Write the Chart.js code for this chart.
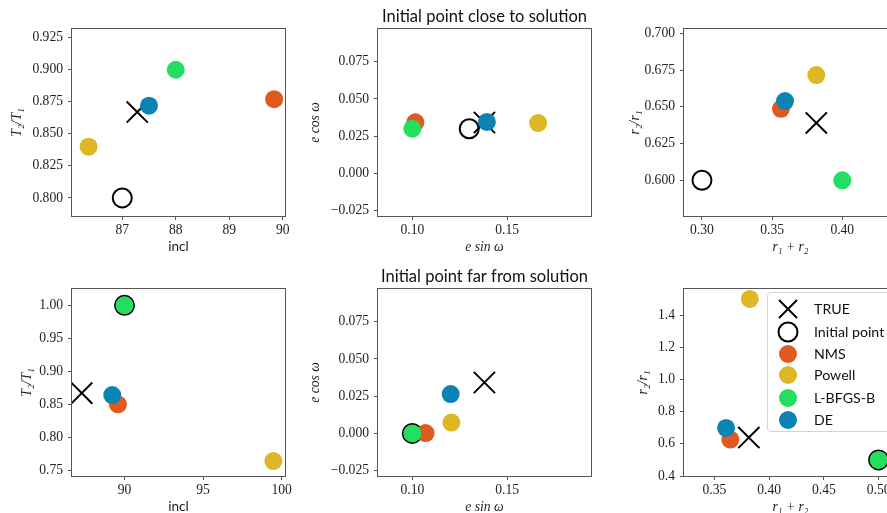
<!DOCTYPE html>
<html><head><meta charset="utf-8">
<script src="https://cdn.jsdelivr.net/npm/chart.js@4.4.1/dist/chart.umd.min.js"></script>
<style>
html,body{margin:0;padding:0;background:#fff;overflow:hidden;}
#fig{position:relative;width:887px;height:513px;overflow:hidden;background:#fff;}
#fig canvas{position:absolute;}
#legend{position:absolute;left:767px;top:292px;width:150px;height:140px;border:1px solid #d3d3d3;border-radius:4px;background:rgba(255,255,255,0.85);box-sizing:border-box;}
#legend .row{position:absolute;left:0;height:22px;width:150px;}
#legend svg{position:absolute;left:9px;top:0px;}
#legend span{position:absolute;left:46px;top:2px;font-family:Lato,"DejaVu Sans",sans-serif;font-size:14.2px;color:#111;white-space:nowrap;line-height:18px;}
</style></head><body><div id="fig"><div id="legend"></div></div>
<script>
// ---- series names & colours ----
const methods = ['TRUE', 'Initial point', 'NMS', 'Powell', 'L-BFGS-B', 'DE'];
const colors  = ['#000000', '#000000', '#E05A1F', '#DEB724', '#23DE5F', '#0B84B3'];

// ---- initial point close to solution ----
const inclClose   = [87.28, 87.00, 89.84, 86.37, 88.00, 87.50];
const t2t1Close   = [0.867, 0.800, 0.877, 0.840, 0.900, 0.872];
const esinwClose  = [0.138, 0.130, 0.1016, 0.1663, 0.100, 0.1393];
const ecoswClose  = [0.0342, 0.030, 0.0343, 0.0338, 0.030, 0.0346];
const rsumClose   = [0.3815, 0.300, 0.3563, 0.3815, 0.400, 0.3592];
const rratioClose = [0.639, 0.600, 0.6486, 0.6716, 0.600, 0.6539];

// ---- initial point far from solution ----
const inclFar   = [87.28, 90.00, 89.58, 99.47, 90.00, 89.22];
const t2t1Far   = [0.867, 1.000, 0.850, 0.764, 1.000, 0.864];
const esinwFar  = [0.138, 0.100, 0.107, 0.1206, 0.100, 0.1202];
const ecoswFar  = [0.0342, 0.000, 0.0002, 0.0073, 0.000, 0.0264];
const rsumFar   = [0.3815, 0.500, 0.3646, 0.3824, 0.500, 0.3607];
const rratioFar = [0.639, 0.500, 0.6265, 1.500, 0.500, 0.699];

// ---- ticks ----
const inclTicksClose = [87, 88, 89, 90];
const inclLabelsClose = ['87', '88', '89', '90'];
const t2t1TicksClose = [0.800, 0.825, 0.850, 0.875, 0.900, 0.925];
const t2t1LabelsClose = ['0.800', '0.825', '0.850', '0.875', '0.900', '0.925'];
const esinwTicks = [0.10, 0.15];
const esinwLabels = ['0.10', '0.15'];
const ecoswTicks = [-0.025, 0.000, 0.025, 0.050, 0.075];
const ecoswLabels = ['\u22120.025', '0.000', '0.025', '0.050', '0.075'];
const rsumTicksClose = [0.30, 0.35, 0.40];
const rsumLabelsClose = ['0.30', '0.35', '0.40'];
const rratioTicksClose = [0.600, 0.625, 0.650, 0.675, 0.700];
const rratioLabelsClose = ['0.600', '0.625', '0.650', '0.675', '0.700'];
const inclTicksFar = [90, 95, 100];
const inclLabelsFar = ['90', '95', '100'];
const t2t1TicksFar = [0.75, 0.80, 0.85, 0.90, 0.95, 1.00];
const t2t1LabelsFar = ['0.75', '0.80', '0.85', '0.90', '0.95', '1.00'];
const rsumTicksFar = [0.35, 0.40, 0.45, 0.50];
const rsumLabelsFar = ['0.35', '0.40', '0.45', '0.50'];
const rratioTicksFar = [0.4, 0.6, 0.8, 1.0, 1.2, 1.4];
const rratioLabelsFar = ['0.4', '0.6', '0.8', '1.0', '1.2', '1.4'];

const titles = ['Initial point close to solution', 'Initial point far from solution'];

const SERIF = '"Liberation Serif","DejaVu Serif",serif';
const SANS = 'Lato,"DejaVu Sans",sans-serif';

const panels = [
  {col:0,row:0,x:inclClose,y:t2t1Close,xr:[86.06,90.043],yr:[0.7859,0.9318],xt:inclTicksClose,xl:inclLabelsClose,yt:t2t1TicksClose,yl:t2t1LabelsClose,xtitle:'incl',xsans:true,ytitle:'T\u2082/T\u2081',yoff:55,title:null},
  {col:1,row:0,x:esinwClose,y:ecoswClose,xr:[0.0819,0.1942],yr:[-0.0286,0.097],xt:esinwTicks,xl:esinwLabels,yt:ecoswTicks,yl:ecoswLabels,xtitle:'e sin \u03c9',ytitle:'e cos \u03c9',yoff:63,title:titles[0]},
  {col:2,row:0,x:rsumClose,y:rratioClose,xr:[0.2872,0.439],yr:[0.5757,0.7029],xt:rsumTicksClose,xl:rsumLabelsClose,yt:rratioTicksClose,yl:rratioLabelsClose,xtitle:'r\u2081 + r\u2082',ytitle:'r\u2082/r\u2081',yoff:49,title:null},
  {col:0,row:1,x:inclFar,y:t2t1Far,xr:[86.66,100.21],yr:[0.7414,1.0248],xt:inclTicksFar,xl:inclLabelsFar,yt:t2t1TicksFar,yl:t2t1LabelsFar,xtitle:'incl',xsans:true,ytitle:'T\u2082/T\u2081',yoff:45,title:null},
  {col:1,row:1,x:esinwFar,y:ecoswFar,xr:[0.0819,0.1942],yr:[-0.0286,0.097],xt:esinwTicks,xl:esinwLabels,yt:ecoswTicks,yl:ecoswLabels,xtitle:'e sin \u03c9',ytitle:'e cos \u03c9',yoff:63,title:titles[1]},
  {col:2,row:1,x:rsumFar,y:rratioFar,xr:[0.3223,0.5168],yr:[0.40,1.562],xt:rsumTicksFar,xl:rsumLabelsFar,yt:rratioTicksFar,yl:rratioLabelsFar,xtitle:'r\u2081 + r\u2082',ytitle:'r\u2082/r\u2081',yoff:41,title:null}
];

const colLeft = [72, 378, 684];
const rowTop = [29, 289];
const YW = 72, TOPH = 29, XH = 44, RP = 12, PW = 213, PH = 187;

const framePlugin = {
  id: 'frame',
  afterDatasetsDraw(chart) {
    const a = chart.chartArea, ctx = chart.ctx;
    ctx.save();
    ctx.strokeStyle = '#555';
    ctx.lineWidth = 1;
    ctx.strokeRect(a.left - 0.5, a.top - 0.5, a.right - a.left + 1, a.bottom - a.top + 1);
    ctx.restore();
  }
};

function styleFor(i) {
  if (i === 0) return {pointStyle:'crossRot', pointRadius:15, borderColor:'#000', backgroundColor:'#000', borderWidth:2};
  if (i === 1) return {pointStyle:'circle', pointRadius:9.5, borderColor:'#000', backgroundColor:'rgba(0,0,0,0)', borderWidth:2};
  return {pointStyle:'circle', pointRadius:9, borderColor:colors[i], backgroundColor:colors[i], borderWidth:0};
}

const fig = document.getElementById('fig');
panels.forEach(p => {
  const cv = document.createElement('canvas');
  const W = YW + PW + RP, H = TOPH + PH + XH;
  cv.width = W; cv.height = H;
  cv.style.width = W + 'px'; cv.style.height = H + 'px';
  cv.style.left = (colLeft[p.col] - YW) + 'px';
  cv.style.top = (rowTop[p.row] - TOPH) + 'px';
  fig.insertBefore(cv, document.getElementById('legend'));
  const datasets = methods.map((m, i) => Object.assign({
    label: m,
    data: [{x: p.x[i], y: p.y[i]}],
    order: methods.length - i,
    clip: 0
  }, styleFor(i)));
  const titleSize = 16.5;
  new Chart(cv, {
    type: 'scatter',
    data: {datasets},
    options: {
      responsive: false,
      animation: false,
      events: [],
      devicePixelRatio: 1,
      layout: {autoPadding: false, padding: {left: 0, right: RP, top: p.title ? 0 : TOPH, bottom: 0}},
      plugins: {
        legend: {display: false},
        tooltip: {enabled: false},
        title: {
          display: !!p.title, text: p.title || '', fullSize: false,
          font: {family: SANS, size: titleSize, weight: 'normal', lineHeight: 1.2},
          color: '#111',
          padding: {top: 7, bottom: TOPH - 7 - titleSize * 1.2}
        }
      },
      scales: {
        x: {
          type: 'linear', position: 'bottom', min: p.xr[0], max: p.xr[1],
          afterBuildTicks: s => { s.ticks = p.xt.map(v => ({value: v})); },
          afterFit: s => { s.height = XH; s.paddingLeft = 0; s.paddingRight = 0; },
          ticks: {font: {family: SERIF, size: 13.6}, color: '#222', padding: 2, autoSkip: false, maxRotation: 0,
                  callback: (v, i) => p.xl[i]},
          grid: {display: true, drawOnChartArea: false, drawTicks: true, tickLength: 4, tickColor: '#555', tickWidth: 1},
          border: {display: false},
          title: {display: true, text: p.xtitle, color: '#222',
                  font: {family: p.xsans ? SANS : SERIF, size: 13.6, style: p.xsans ? 'normal' : 'italic', lineHeight: 1.2},
                  padding: {top: 0, bottom: XH - 8.16 - 31}}
        },
        y: {
          type: 'linear', position: 'left', min: p.yr[0], max: p.yr[1],
          afterBuildTicks: s => { s.ticks = p.yt.map(v => ({value: v})); },
          afterFit: s => { s.width = YW; s.paddingTop = 0; s.paddingBottom = 0; },
          ticks: {font: {family: SERIF, size: 13.6}, color: '#222', padding: 5, autoSkip: false,
                  callback: (v, i) => p.yl[i]},
          grid: {display: true, drawOnChartArea: false, drawTicks: true, tickLength: 4, tickColor: '#555', tickWidth: 1},
          border: {display: false},
          title: {display: true, text: p.ytitle, color: '#222',
                  font: {family: SERIF, size: 13.6, style: 'italic', lineHeight: 1.2},
                  padding: {top: YW - p.yoff - 8.16, bottom: 0}}
        }
      }
    },
    plugins: [framePlugin]
  });
});

// ---- legend (HTML) ----
const leg = document.getElementById('legend');
const rowCenters = [16, 38.5, 60.5, 82, 104.5, 126.5];
methods.forEach((m, i) => {
  const row = document.createElement('div');
  row.className = 'row';
  row.style.top = (rowCenters[i] - 11) + 'px';
  let mk;
  if (i === 0) mk = '<line x1="2" y1="2" x2="20" y2="20" stroke="#000" stroke-width="2"/><line x1="2" y1="20" x2="20" y2="2" stroke="#000" stroke-width="2"/>';
  else if (i === 1) mk = '<circle cx="11" cy="11" r="9.5" fill="none" stroke="#000" stroke-width="2"/>';
  else mk = '<circle cx="11" cy="11" r="9" fill="' + colors[i] + '"/>';
  row.innerHTML = '<svg width="22" height="22" viewBox="0 0 22 22">' + mk + '</svg><span>' + m + '</span>';
  leg.appendChild(row);
});
</script></body></html>
